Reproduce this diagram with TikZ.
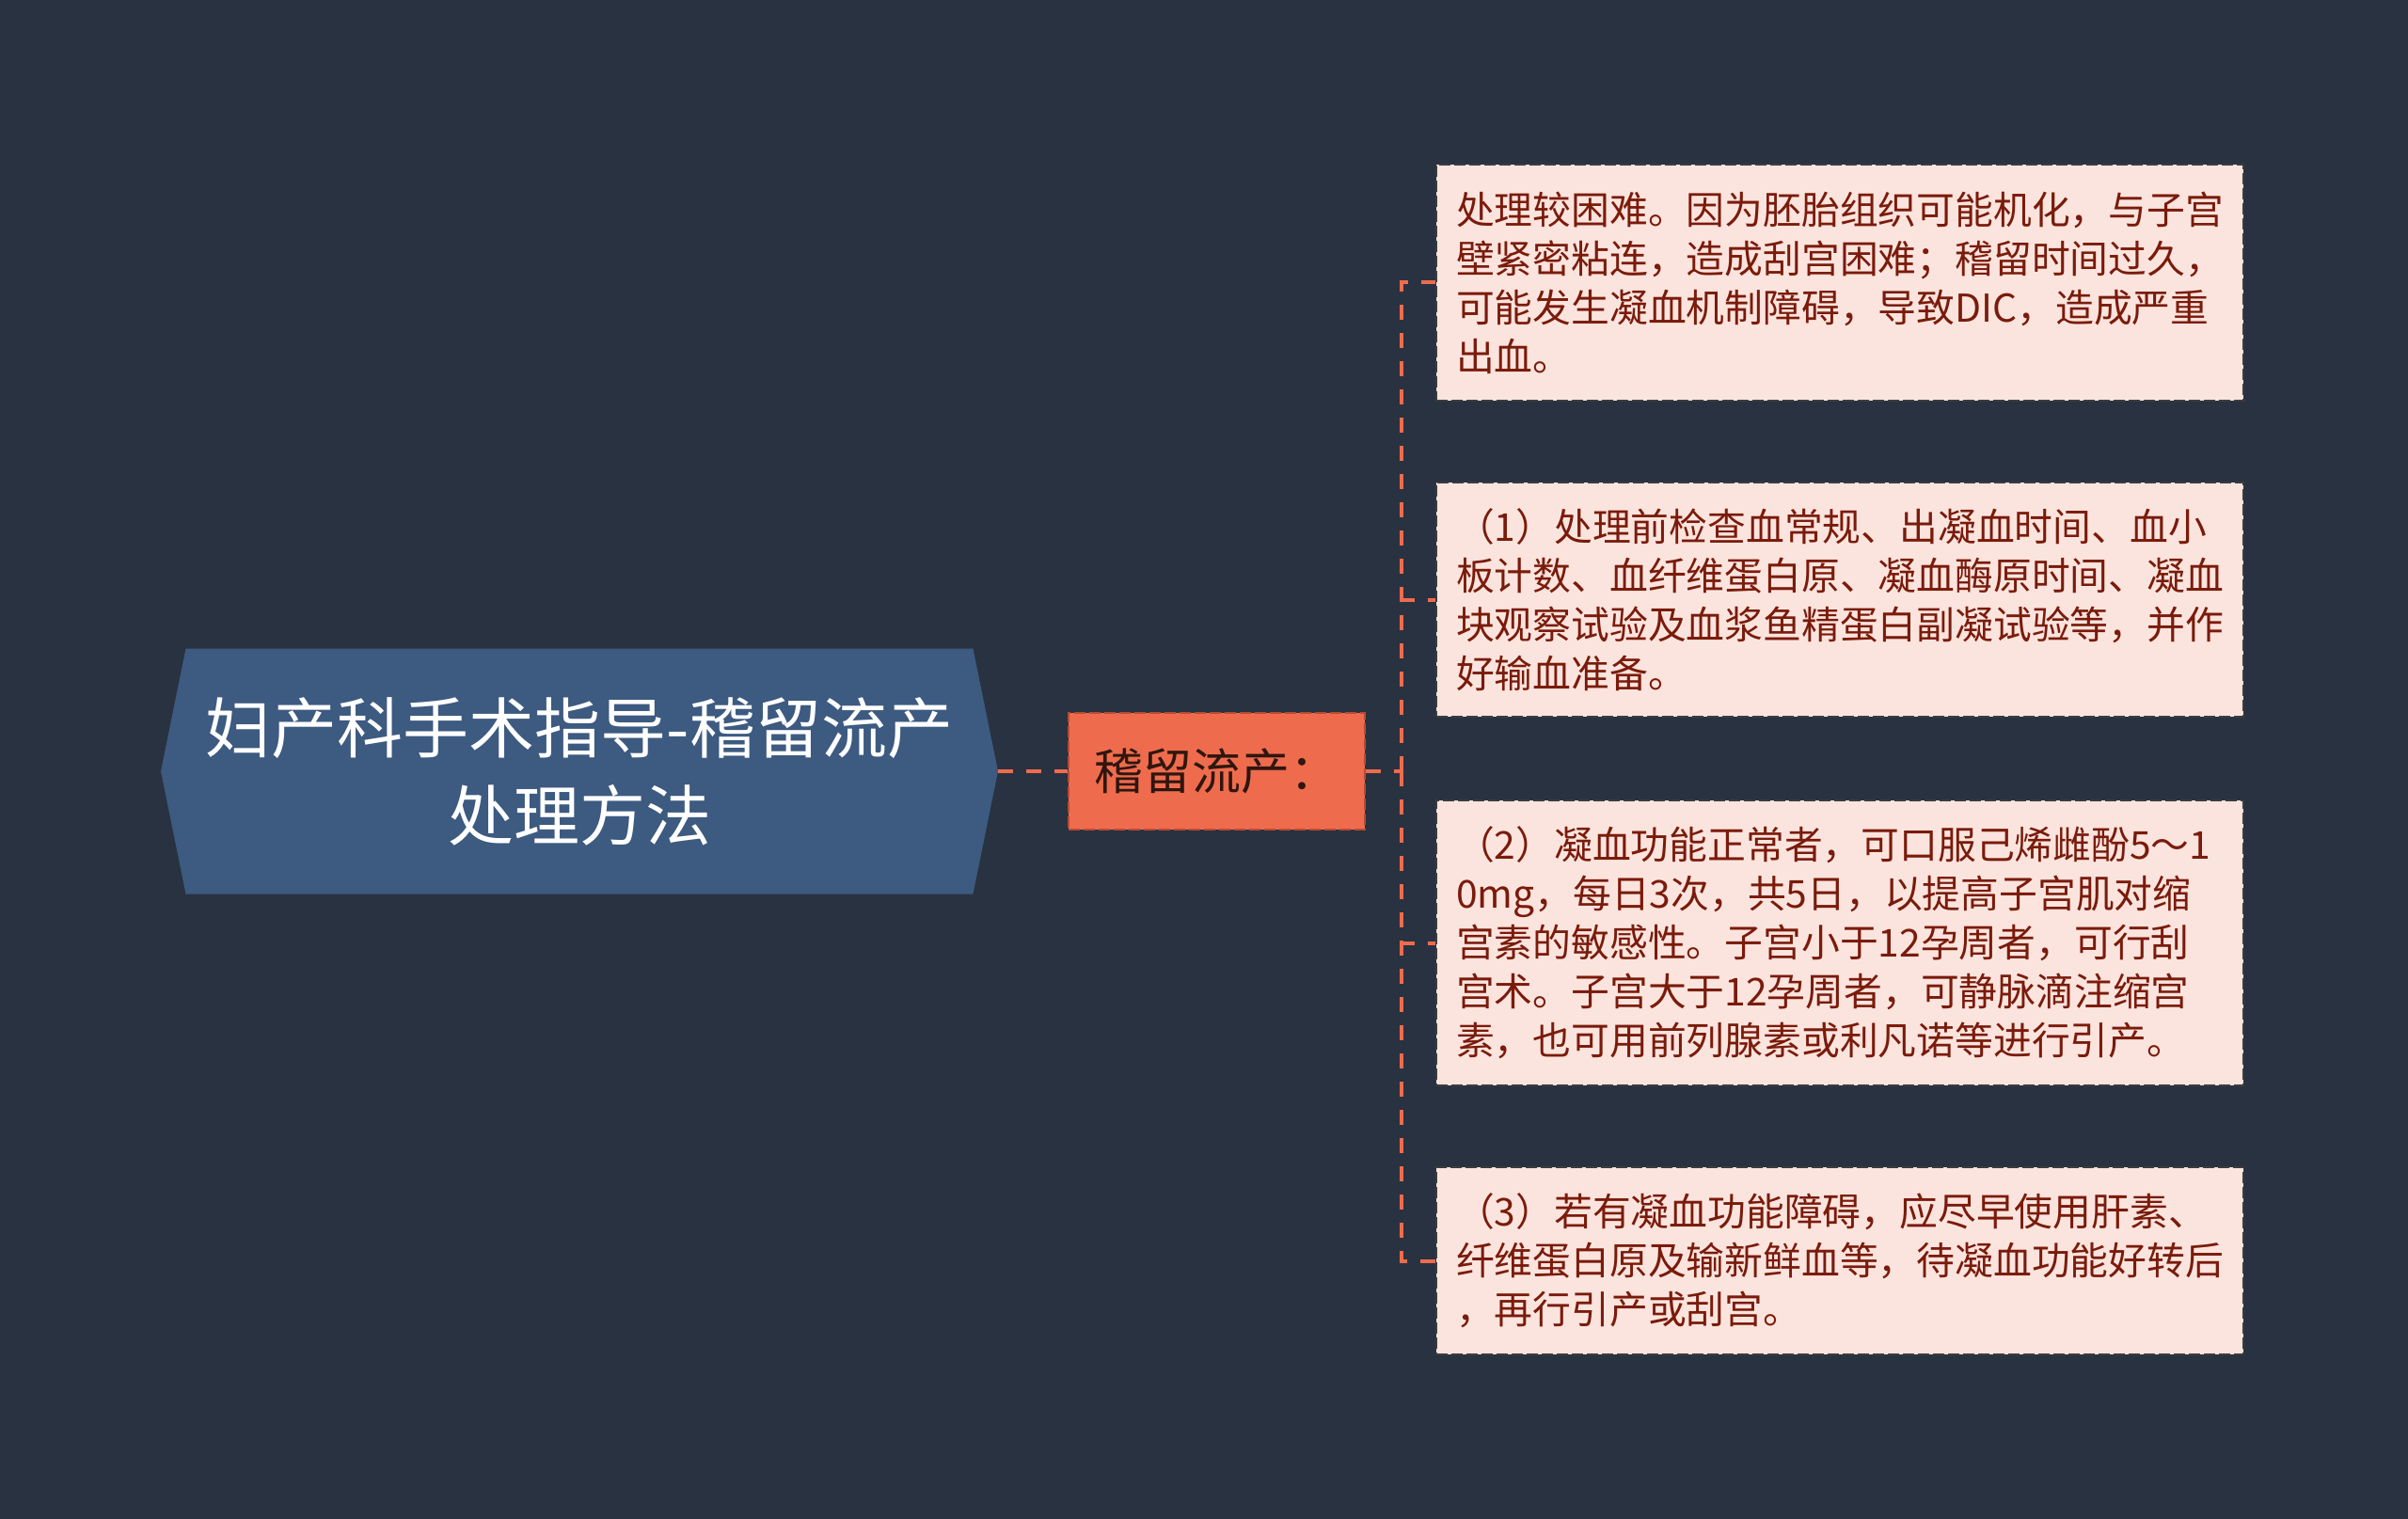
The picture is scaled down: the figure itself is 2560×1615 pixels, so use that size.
\documentclass[tikz,border=0pt]{standalone}
\usepackage{fontspec}
\setmainfont{Noto Sans CJK SC}
\usepackage{xcolor}
\usetikzlibrary{shapes.symbols, positioning}

\definecolor{bgnavy}{HTML}{293241}
\definecolor{rootblue}{HTML}{3D5A80}
\definecolor{coral}{HTML}{EE6C4D}
\definecolor{coraledge}{HTML}{B94A32}
\definecolor{leafpink}{HTML}{FCE4DE}
\definecolor{leafred}{HTML}{7A1B0B}
\definecolor{leafedge}{HTML}{3C3C3C}

\begin{document}
\begin{tikzpicture}[x=0.5pt, y=-0.5pt]
  \tikzstyle{root} = [shape=signal, signal to=west and east, signal pointer angle=157, fill=rootblue, text=white, align=center, font=\fontsize{35}{46.5}\selectfont, minimum width=445pt, minimum height=130.5pt, inner sep=0pt]
  \tikzstyle{topic} = [rectangle, fill=coral, draw=coraledge, line width=1pt, dash pattern=on 6pt off 2pt, text=black!80!coral, font=\fontsize{26}{30}\selectfont, minimum width=157.5pt, minimum height=62pt]
  \tikzstyle{leaf} = [rectangle, fill=leafpink, draw=leafedge, line width=1pt, dash pattern=on 6pt off 2pt, text=leafred, align=left, text width=408pt, inner xsep=10.5pt, minimum width=429pt, font=\fontsize{20.4}{26}\selectfont]
  \tikzstyle{link} = [draw=coral, line width=2pt, dash pattern=on 8pt off 7pt]

  \fill[bgnavy] (0,0) rectangle (2560,1615);
  \useasboundingbox (0,0) rectangle (2560,1615);

  \node[root] (Root) at (616,820) {妇产科手术指导-稽留流产\\处理方法};
  \node[topic] (Stay) at (1293.5,820) {稽留流产：};
  \coordinate (Bus) at (1490,820);

  \node[leaf, minimum height=125.5pt] (Hard) at (1956,300.5) {处理较困难。因为胚胎组织可能机化，与子宫\\壁紧密粘连，造成刮宫困难；稽留时间过久，\\可能发生凝血机制障碍，导致DIC，造成严重\\出血。};
  \node[leaf, minimum height=124.5pt] (Check) at (1956,637.5) {（1）处理前检查血常规、出凝血时间、血小\\板计数、血纤维蛋白原、凝血酶原时间、凝血\\块观察试验及血浆鱼精蛋白副凝试验等，并作\\好输血准备。};
  \node[leaf, minimum height=151.5pt] (Normal) at (1956,1002.5) {（2）凝血功能正常者，可口服己烯雌酚5～1\\0mg，每日3次，共5日，以提高子宫肌对缩\\宫素的敏感性。子宫小于12孕周者，可行刮\\宫术。子宫大于12孕周者，可静脉滴注缩宫\\素，也可用前列腺素或利凡诺等进行引产。};
  \node[leaf, minimum height=99.5pt] (Clot) at (1956,1340.5) {（3）若有凝血功能障碍，应尽早使用肝素、\\纤维蛋白原及输新鲜血等，待凝血功能好转后\\，再行引产或刮宫。};

  \path[link] (Root.east) -- (Stay.west);
  \path[link] (Stay.east) -- (Bus);
  \foreach \leafname in {Hard, Check, Normal, Clot}
    \path[link] (Bus) |- (\leafname.west);
\end{tikzpicture}
\end{document}
